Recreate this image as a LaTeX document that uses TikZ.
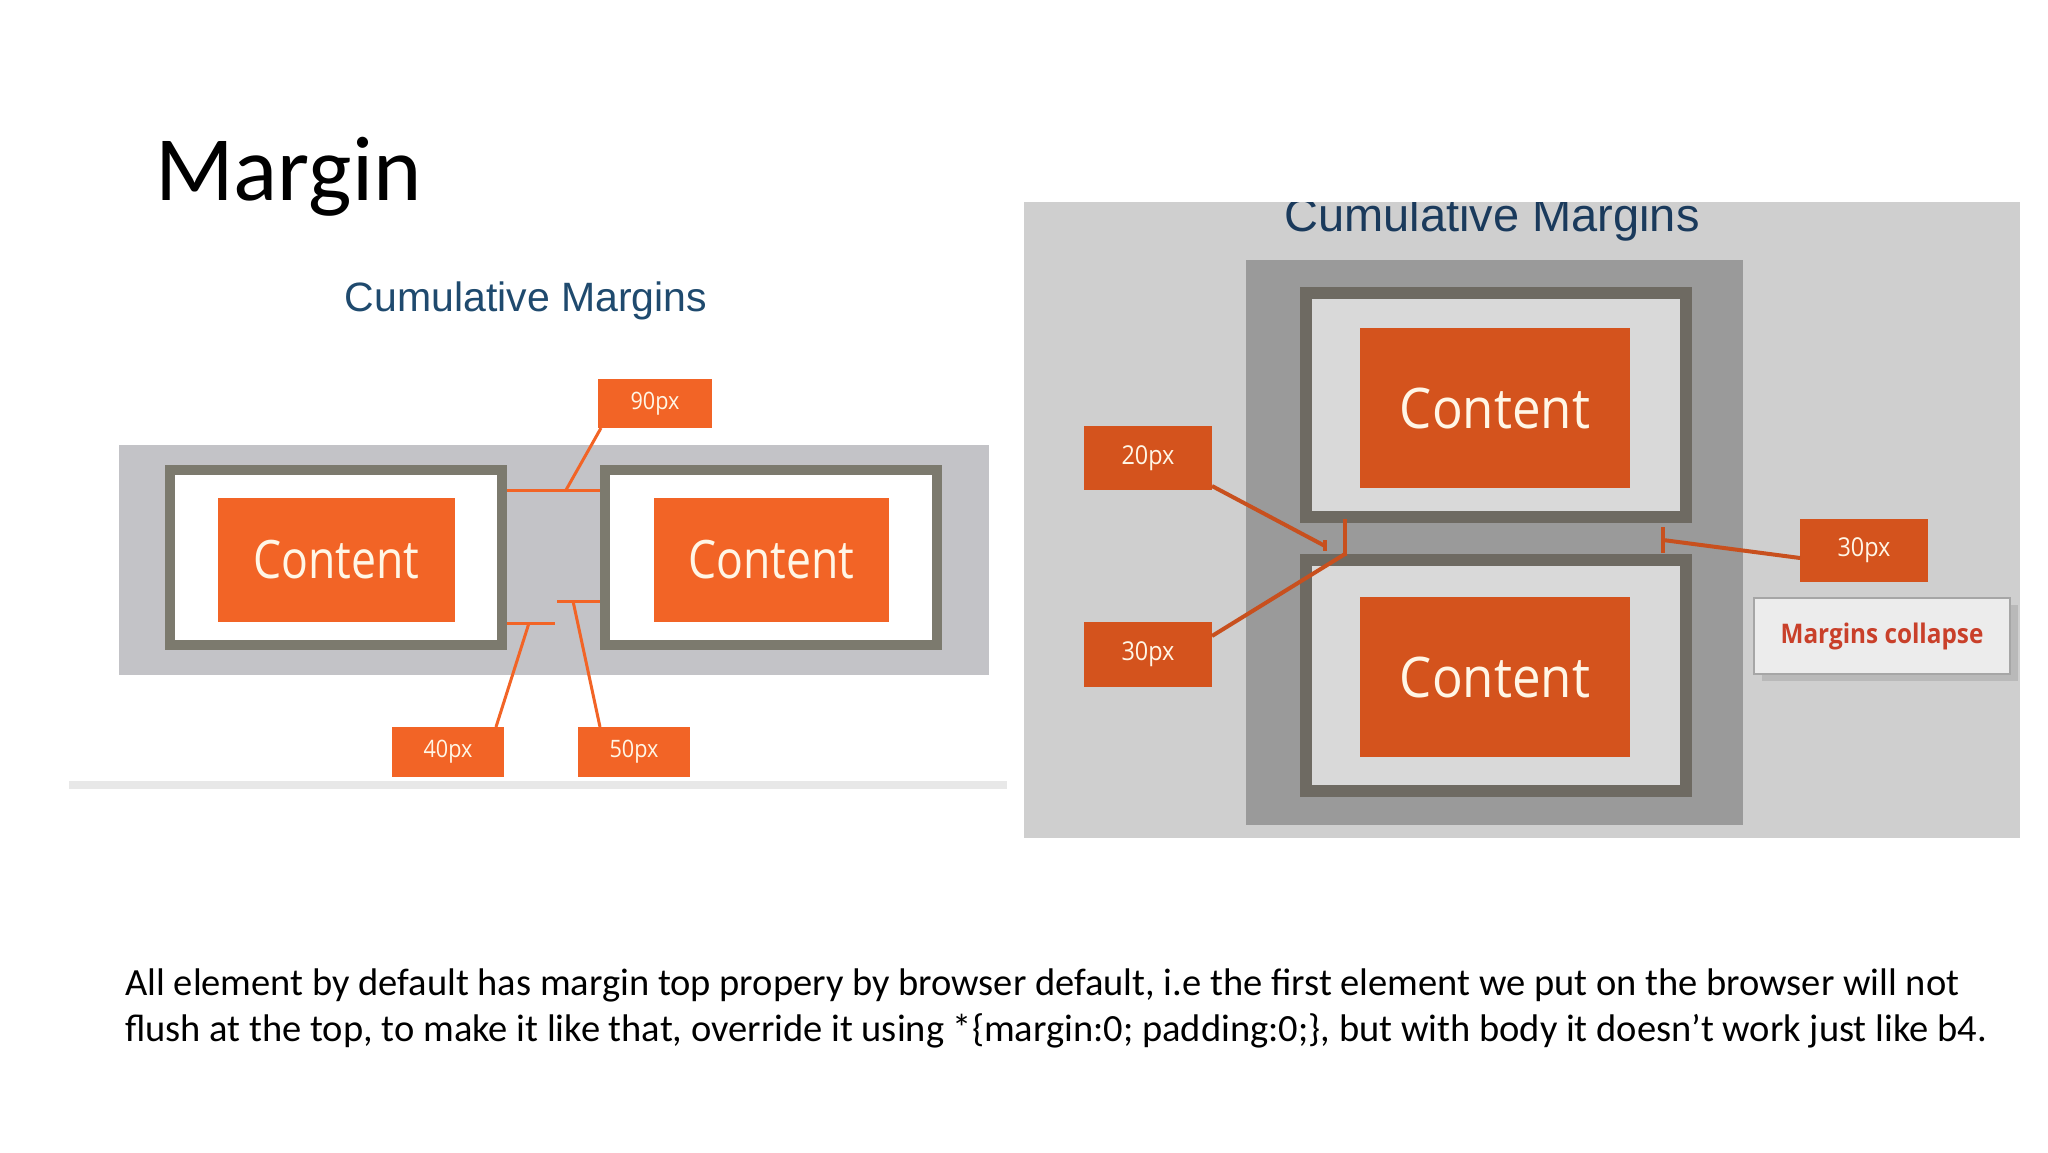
\documentclass[tikz,border=0pt]{standalone}
\usepackage{fontspec}
\setmainfont{Carlito}
\newfontfamily\contentL[FakeStretch=0.84]{Open Sans}
\newfontfamily\contentR[FakeStretch=0.91]{Open Sans}
\newfontfamily\lblfont[FakeStretch=0.9]{Open Sans}
\newfontfamily\arialf{Liberation Sans}
\definecolor{lbg}{HTML}{C3C3C7}
\definecolor{lframe}{HTML}{7C7A6E}
\definecolor{lorange}{HTML}{F26426}
\definecolor{cream}{HTML}{FFF6E6}
\definecolor{navy}{HTML}{1F4A6E}
\definecolor{rnavy}{HTML}{1A3A5C}
\definecolor{rbg}{HTML}{CFCFCF}
\definecolor{rcol}{HTML}{9A9A9A}
\definecolor{rframe}{HTML}{6E6A62}
\definecolor{rinner}{HTML}{D9D9D9}
\definecolor{rorange}{HTML}{D4531D}
\definecolor{rline}{HTML}{C8501E}
\definecolor{mcred}{HTML}{C9402A}
\begin{document}
\begin{tikzpicture}[x=1pt,y=-1pt,
  box/.style={inner sep=0pt, outer sep=0pt, anchor=north west},
  lconn/.style={draw=lorange, line width=3pt},
  rconn/.style={draw=rline, line width=4pt},
  llabel/.style={box, fill=lorange, text=cream, font=\lblfont\fontsize{24}{28}\selectfont},
  rlabel/.style={box, fill=rorange, text=cream, font=\lblfont\fontsize{26}{30}\selectfont},
  lcontent/.style={box, fill=lorange, text=cream, font=\contentL\fontsize{53}{60}\selectfont},
  rcontent/.style={box, fill=rorange, text=cream, font=\contentR\fontsize{56}{64}\selectfont}
]
\useasboundingbox (0,0) rectangle (2048,1152);
\fill[white] (0,0) rectangle (2048,1152);

% Title
\node[anchor=base west, inner sep=0pt, font=\fontsize{92}{110}\selectfont] (title) at (155,200) {Margin};

% ---------- Left diagram ----------
\node[anchor=base, inner sep=0pt, text=navy, font=\arialf\fontsize{41}{48}\selectfont] (lcap) at (526,311) {Cumulative Margins};
\node[box, fill=lbg, minimum width=870pt, minimum height=230pt] (lbgn) at (119,445) {};
\node[box, fill=gray!18, minimum width=938pt, minimum height=8pt] (lstripe) at (69,781) {};

\node[box, draw=lframe, line width=10pt, fill=white, minimum width=332pt, minimum height=175pt] (lbox1) at (170,470) {};
\node[box, draw=lframe, line width=10pt, fill=white, minimum width=332pt, minimum height=175pt] (lbox2) at (605,470) {};
\node[lcontent, minimum width=237pt, minimum height=124pt] (lc1) at (218,498) {Content};
\node[lcontent, minimum width=235pt, minimum height=124pt] (lc2) at (654,498) {Content};

\node[llabel, minimum width=114pt, minimum height=49pt] (l90) at (598,379) {90px};
\node[llabel, minimum width=112pt, minimum height=50pt] (l40) at (392,727) {40px};
\node[llabel, minimum width=112pt, minimum height=50pt] (l50) at (578,727) {50px};

\coordinate (ta) at (507,490);
\coordinate (tb) at (600,490);
\coordinate (tm) at (566,490);
\coordinate (ma) at (557,601);
\coordinate (mb) at (600,601);
\coordinate (mm) at (573,601);
\coordinate (na) at (507,623);
\coordinate (nb) at (555,623);
\coordinate (nm) at (529,623);
\draw[lconn] (ta) -- (tb);
\draw[lconn] (ma) -- (mb);
\draw[lconn] (na) -- (nb);
\draw[lconn] ([xshift=3pt]l90.south west) -- (tm);
\draw[lconn] ([xshift=-8pt]l40.north east) -- (nm);
\draw[lconn] ([xshift=22pt]l50.north west) -- (mm);

% ---------- Right diagram ----------
\node[box, fill=rbg, minimum width=996pt, minimum height=636pt] (rbgn) at (1024,202) {};
\begin{scope}
\clip (1024,202) rectangle (2020,838);
\node[anchor=base, inner sep=0pt, text=rnavy, font=\arialf\fontsize{47}{56}\selectfont] (rcap) at (1492,231) {Cumulative Margins};
\end{scope}
\node[box, fill=rcol, minimum width=497pt, minimum height=565pt] (rcoln) at (1246,260) {};

\node[box, draw=rframe, line width=12pt, fill=rinner, minimum width=380pt, minimum height=224pt] (rbox1) at (1306,293) {};
\node[box, draw=rframe, line width=12pt, fill=rinner, minimum width=380pt, minimum height=231pt] (rbox2) at (1306,560) {};
\node[rcontent, minimum width=270pt, minimum height=160pt] (rc1) at (1360,328) {Content};
\node[rcontent, minimum width=270pt, minimum height=160pt] (rc2) at (1360,597) {Content};

\node[rlabel, minimum width=128pt, minimum height=64pt] (r20) at (1084,426) {20px};
\node[rlabel, minimum width=128pt, minimum height=65pt] (r30l) at (1084,622) {30px};
\node[rlabel, minimum width=128pt, minimum height=63pt] (r30r) at (1800,519) {30px};

\fill[gray!55] (1762,605) rectangle (2018,681);
\node[box, fill=gray!15, draw=gray!70, line width=2pt, minimum width=256pt, minimum height=76pt, text=mcred, font=\lblfont\bfseries\fontsize{27}{31}\selectfont] (mc) at (1754,598) {Margins collapse};

\coordinate (va) at (1345,519);
\coordinate (vb) at (1345,556);
\coordinate (vm) at (1345,554);
\coordinate (ka) at (1325,540);
\coordinate (kb) at (1325,551);
\coordinate (km) at (1325,546);
\coordinate (ra) at (1663,527);
\coordinate (rb) at (1663,553);
\coordinate (rm) at (1663,540);
\draw[rconn] (va) -- (vb);
\draw[rconn] (ka) -- (kb);
\draw[rconn] (ra) -- (rb);
\draw[rconn] ([yshift=4pt]r20.south east) -- (km);
\draw[rconn] ([yshift=-14pt]r30l.north east) -- (vm);
\draw[rconn] (rm) -- ([yshift=-39pt]r30r.north west);

% ---------- Bottom text ----------
\node[anchor=base west, inner sep=0pt, font=\fontsize{38.5}{46}\selectfont] (txt1) at (125,995) {All element by default has margin top propery by browser default, i.e the first element we put on the browser will not};
\node[anchor=base west, inner sep=0pt, font=\fontsize{38.5}{46}\selectfont] (txt2) at (125,1041) {flush at the top, to make it like that, override it using *\{margin:0; padding:0;\}, but with body it doesn’t work just like b4.};
\end{tikzpicture}
\end{document}
